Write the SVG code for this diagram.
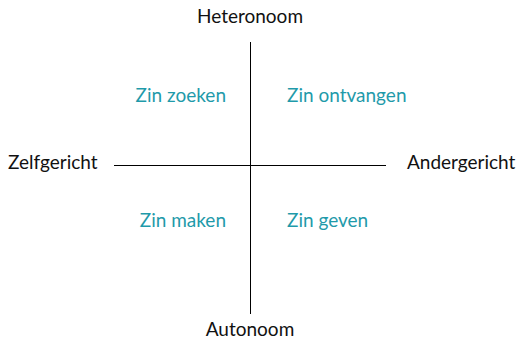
<svg xmlns="http://www.w3.org/2000/svg" width="516" height="340" viewBox="0 0 516 340">
<style>
text{font-family:Lato,"Open Sans",sans-serif;font-size:19px}
.ax{fill:#111}
.q{fill:#1f9aaa}
.ln{stroke:#000;stroke-width:1;fill:none}
</style>
<rect width="516" height="340" fill="#fff"/>
<g id="connectors">
<line class="ln" x1="250.5" y1="42" x2="250.5" y2="314"/>
<line class="ln" x1="114" y1="165.5" x2="386" y2="165.5"/>
</g>
<g id="heteronoom"><text class="ax" x="250" y="23" text-anchor="middle">Heteronoom</text></g>
<g id="autonoom"><text class="ax" x="250" y="336" text-anchor="middle">Autonoom</text></g>
<g id="zelfgericht"><text class="ax" x="8" y="169">Zelfgericht</text></g>
<g id="andergericht"><text class="ax" x="407" y="169">Andergericht</text></g>
<g id="zin-zoeken"><text class="q" x="226" y="102" text-anchor="end">Zin zoeken</text></g>
<g id="zin-ontvangen"><text class="q" x="287" y="102">Zin ontvangen</text></g>
<g id="zin-maken"><text class="q" x="226" y="227" text-anchor="end">Zin maken</text></g>
<g id="zin-geven"><text class="q" x="287" y="227">Zin geven</text></g>
</svg>
